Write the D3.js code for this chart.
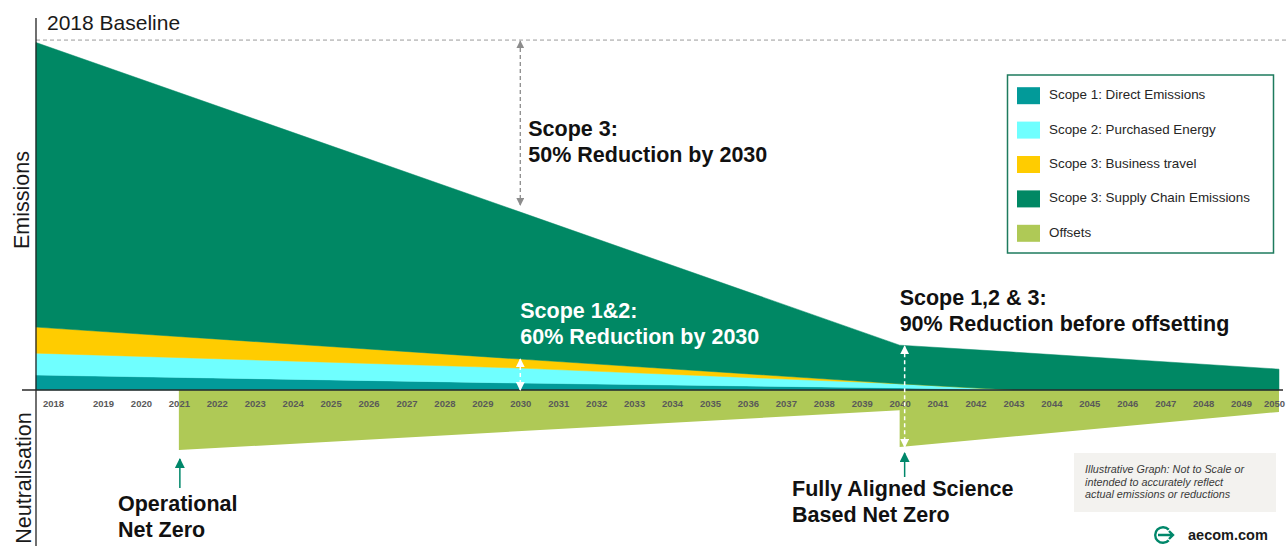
<!DOCTYPE html>
<html>
<head>
<meta charset="utf-8">
<script src="https://cdn.jsdelivr.net/npm/d3@7"></script>
<style>
  body { margin: 0; background: #fff; }
  svg { display: block; font-family: "Liberation Sans", Arial, sans-serif; }
</style>
</head>
<body>
<svg id="canvas" width="1287" height="546"></svg>
<script>
// tick labels along the zero line
const YEARS = d3.range(2018, 2051);

// emission layers (illustrative units, 2018 total = 100)
const DATA_YEARS = [2018, 2030, 2040, 2043, 2050];
const SCOPE1 = [4.3, 2.0, 0.6, 0, 0];
const SCOPE2 = [6.3, 4.3, 1.2, 0, 0];
const SCOPE3_TRAVEL = [7.5, 2.6, 0, 0, 0];
const SCOPE3_SUPPLY = [81.9, 42.3, 11.1, 10.9, 6.0];

// offsets below the line (step at 2040)
const OFFSET_YEARS = [2021, 2040, 2040, 2050];
const OFFSETS = [-17.3, -5.8, -16.4, -6.3];

const BASELINE_VALUE = 100.7;

const KEYS = ['s1', 's2', 's3t', 's3s'];
const LEGEND_NAMES = ['Scope 1: Direct Emissions', 'Scope 2: Purchased Energy',
  'Scope 3: Business travel', 'Scope 3: Supply Chain Emissions', 'Offsets'];
const COLORS = ['#029a99', '#6fffff', '#ffcc00', '#008864', '#afc956'];

const svg = d3.select('#canvas');

// x goes piecewise: 2018 sits on the vertical axis, other years evenly spaced
const x = d3.scaleLinear().domain([2018, 2019, 2050]).range([36, 103, 1279]);
const y = d3.scaleLinear().domain([0, 100]).range([390, 42.5]);

// build the table for the stack
let rows = DATA_YEARS.map((yr, i) => ({
  year: yr, s1: SCOPE1[i], s2: SCOPE2[i], s3t: SCOPE3_TRAVEL[i], s3s: SCOPE3_SUPPLY[i]
}));
let stacked = d3.stack().keys(KEYS)(rows);

let offsetRows = OFFSET_YEARS.map((yr, i) => ({ year: yr, v: OFFSETS[i] }));

// arrow heads
const defs = svg.append('defs');
function addHead(id, color, size) {
  defs.append('marker')
    .attr('id', id)
    .attr('viewBox', '0 0 10 10')
    .attr('refX', 9).attr('refY', 5)
    .attr('markerUnits', 'userSpaceOnUse')
    .attr('markerWidth', size).attr('markerHeight', size)
    .attr('orient', 'auto-start-reverse')
    .append('path')
    .attr('d', 'M0,0 L10,5 L0,10 z')
    .attr('fill', color);
}
addHead('head-gray', '#8c8c8c', 8);
addHead('head-white', '#ffffff', 9);
addHead('head-green', '#00876a', 10);

// offsets area
svg.append('path')
  .datum(offsetRows)
  .attr('fill', COLORS[4])
  .attr('d', d3.area()
    .x(d => x(d.year))
    .y0(y(0))
    .y1(d => y(d.v)));

// stacked emissions
let area = d3.area()
  .x(d => x(d.data.year))
  .y0(d => y(d[0]))
  .y1(d => y(d[1]));

svg.selectAll('path.layer')
  .data(stacked)
  .enter()
  .append('path')
  .attr('class', 'layer')
  .attr('fill', (d, i) => COLORS[i])
  .attr('stroke', (d, i) => COLORS[i])
  .attr('stroke-width', 0.5)
  .attr('d', area);

// 2018 baseline
svg.append('line')
  .attr('x1', x(2018)).attr('x2', 1287)
  .attr('y1', y(BASELINE_VALUE)).attr('y2', y(BASELINE_VALUE))
  .attr('stroke', '#9a9a9a')
  .attr('stroke-width', 1)
  .attr('stroke-dasharray', '4,3');

svg.append('text')
  .attr('x', 47).attr('y', 30)
  .attr('font-size', 21)
  .attr('fill', '#1a1a1a')
  .text('2018 Baseline');

// axes lines
svg.append('line')
  .attr('x1', x(2018)).attr('x2', x(2018))
  .attr('y1', 18).attr('y2', 546)
  .attr('stroke', '#222')
  .attr('stroke-width', 1.3);

svg.append('line')
  .attr('x1', 22).attr('x2', 1283)
  .attr('y1', y(0)).attr('y2', y(0))
  .attr('stroke', '#2a2a2a')
  .attr('stroke-width', 1.5);

// year labels
let xAxis = svg.append('g')
  .attr('transform', 'translate(0,' + y(0) + ')')
  .call(d3.axisBottom(x)
    .tickValues(YEARS)
    .tickFormat(d3.format('d'))
    .tickSize(0)
    .tickPadding(10));
xAxis.select('.domain').remove();
xAxis.selectAll('text')
  .attr('font-family', '"Liberation Sans", Arial, sans-serif')
  .attr('font-size', 9.5)
  .attr('font-weight', 'bold')
  .attr('fill', '#595959')
  .attr('dx', d => d === 2018 ? 17 : (d === 2050 ? -5 : 0));

// side titles
svg.append('text')
  .attr('transform', 'translate(29,200) rotate(-90)')
  .attr('text-anchor', 'middle')
  .attr('font-size', 21.5)
  .attr('fill', '#1a1a1a')
  .text('Emissions');

svg.append('text')
  .attr('transform', 'translate(31,478) rotate(-90)')
  .attr('text-anchor', 'middle')
  .attr('font-size', 21.5)
  .attr('fill', '#1a1a1a')
  .text('Neutralisation');

// helper for two-line bold notes
function note(lines, px, py, color) {
  let t = svg.append('text')
    .attr('x', px).attr('y', py)
    .attr('font-size', 21.5)
    .attr('font-weight', 'bold')
    .attr('fill', color);
  lines.forEach((s, i) => {
    t.append('tspan').attr('x', px).attr('dy', i === 0 ? 0 : 25.5).text(s);
  });
}

let total2030 = stacked[3][1][1];
let travel2030 = stacked[2][1][1];
let total2040 = stacked[3][2][1];

// scope 3 arrow
svg.append('line')
  .attr('x1', x(2030)).attr('x2', x(2030))
  .attr('y1', y(BASELINE_VALUE) + 1).attr('y2', y(total2030) - 7)
  .attr('stroke', '#8c8c8c')
  .attr('stroke-width', 1.3)
  .attr('stroke-dasharray', '4,3')
  .attr('marker-start', 'url(#head-gray)')
  .attr('marker-end', 'url(#head-gray)');
note(['Scope 3:', '50% Reduction by 2030'], x(2030) + 8, 136, '#111');

// scope 1&2 arrow
svg.append('line')
  .attr('x1', x(2030)).attr('x2', x(2030))
  .attr('y1', y(travel2030)).attr('y2', y(0))
  .attr('stroke', '#fff')
  .attr('stroke-width', 1.5)
  .attr('stroke-dasharray', '4,3')
  .attr('marker-start', 'url(#head-white)')
  .attr('marker-end', 'url(#head-white)');
note(['Scope 1&2:', '60% Reduction by 2030'], x(2030), 318, '#fff');

// scope 1,2 & 3 arrow at 2040
svg.append('line')
  .attr('x1', x(2040) + 5).attr('x2', x(2040) + 5)
  .attr('y1', y(total2040) + 1).attr('y2', y(OFFSETS[2]))
  .attr('stroke', '#fff')
  .attr('stroke-width', 1.5)
  .attr('stroke-dasharray', '4,3')
  .attr('marker-start', 'url(#head-white)')
  .attr('marker-end', 'url(#head-white)');
note(['Scope 1,2 & 3:', '90% Reduction before offsetting'], x(2040), 305, '#111');

// net zero markers
svg.append('line')
  .attr('x1', x(2021) + 1).attr('x2', x(2021) + 1)
  .attr('y1', 488).attr('y2', y(OFFSETS[0]) + 9)
  .attr('stroke', '#00876a')
  .attr('stroke-width', 1.5)
  .attr('marker-end', 'url(#head-green)');
note(['Operational', 'Net Zero'], 118, 511, '#111');

svg.append('line')
  .attr('x1', x(2040) + 5).attr('x2', x(2040) + 5)
  .attr('y1', 477).attr('y2', y(OFFSETS[2]) + 6)
  .attr('stroke', '#00876a')
  .attr('stroke-width', 1.5)
  .attr('marker-end', 'url(#head-green)');
note(['Fully Aligned Science', 'Based Net Zero'], 792, 496, '#111');

// legend
let legend = svg.append('g');
legend.append('rect')
  .attr('x', 1007.5).attr('y', 75)
  .attr('width', 266).attr('height', 178)
  .attr('fill', '#fff')
  .attr('stroke', '#1e7b5e')
  .attr('stroke-width', 1.5);

LEGEND_NAMES.forEach((name, i) => {
  let cy = 95.7 + i * 34.4;
  legend.append('rect')
    .attr('x', 1017).attr('y', cy - 8.5)
    .attr('width', 23).attr('height', 17)
    .attr('fill', COLORS[i]);
  legend.append('text')
    .attr('x', 1049).attr('y', cy)
    .attr('dominant-baseline', 'middle')
    .attr('font-size', 13.4)
    .attr('fill', '#262626')
    .text(name);
});

// disclaimer box
svg.append('rect')
  .attr('x', 1074).attr('y', 453)
  .attr('width', 202).attr('height', 59)
  .attr('fill', '#f3f2ef');
['Illustrative Graph: Not to Scale or', 'intended to accurately reflect',
 'actual emissions or reductions'].forEach((s, i) => {
  svg.append('text')
    .attr('x', 1085).attr('y', 473 + i * 12.5)
    .attr('font-size', 10.8)
    .attr('font-style', 'italic')
    .attr('fill', '#3a3a3a')
    .text(s);
});

// logo
let logo = svg.append('g').attr('transform', 'translate(1163,535)');
logo.append('path')
  .attr('d', d3.arc().innerRadius(7.8).outerRadius(7.8)
    .startAngle(Math.PI / 2 + 0.75).endAngle(Math.PI * 2.5 - 0.75)())
  .attr('fill', 'none')
  .attr('stroke', '#00876a')
  .attr('stroke-width', 2.4);
logo.append('path')
  .attr('d', 'M-5,0 L10,0 M6,-4 L10,0 L6,4')
  .attr('fill', 'none')
  .attr('stroke', '#00876a')
  .attr('stroke-width', 2.4);
svg.append('text')
  .attr('x', 1188).attr('y', 540)
  .attr('font-size', 14.5)
  .attr('font-weight', 'bold')
  .attr('fill', '#1a1a1a')
  .text('aecom.com');
</script>
</body>
</html>
